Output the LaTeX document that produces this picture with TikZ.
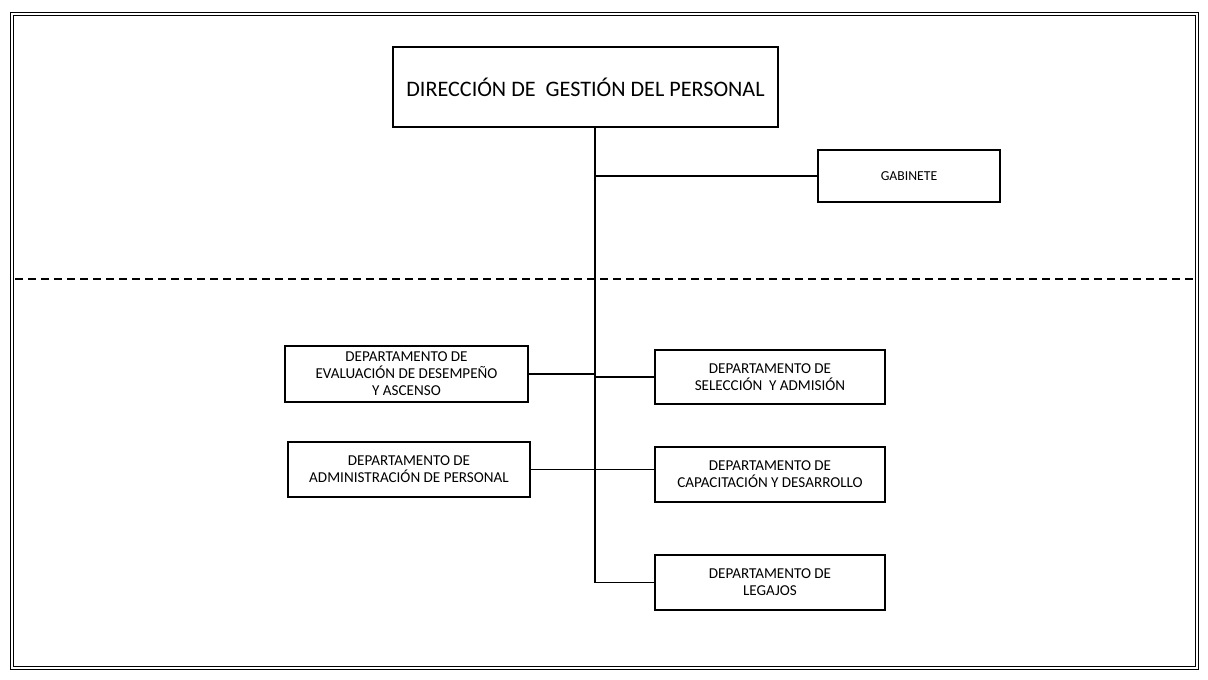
\documentclass[tikz,border=0pt]{standalone}
\usepackage{fontspec}
\setmainfont{Carlito}

\begin{document}
\begin{tikzpicture}
\tikzset{caja/.style={draw, line width=1.2pt, fill=white, align=center, inner sep=2pt, font=\fontsize{8.6}{9.6}\selectfont},
linea/.style={line width=0.9pt}}
\useasboundingbox (0,0) rectangle (24.16,-13.6);
\draw[double, double distance=1.1pt, line width=0.7pt] (0.24,-0.28) rectangle (23.94,-13.36);
\draw[line width=1.1pt, dash pattern=on 0.16cm off 0.1cm] (0.3,-5.58) -- (23.94,-5.58);
\node[caja, minimum width=7.7cm, minimum height=1.6cm, font=\fontsize{12.6}{14}\selectfont] (DIR) at (11.71,-1.74) {DIRECCIÓN DE\ \ GESTIÓN DEL PERSONAL};
\node[caja, minimum width=3.64cm, minimum height=1.04cm, font=\fontsize{7.8}{9}\selectfont] (GAB) at (18.18,-3.52) {GABINETE};
\node[caja, minimum width=4.86cm, minimum height=1.12cm] (EVA) at (8.13,-7.48) {DEPARTAMENTO DE\\EVALUACIÓN DE DESEMPEÑO\\Y ASCENSO};
\node[caja, minimum width=4.6cm, minimum height=1.08cm] (SEL) at (15.4,-7.54) {DEPARTAMENTO DE\\SELECCIÓN\ \ Y ADMISIÓN};
\node[caja, minimum width=4.84cm, minimum height=1.1cm] (ADM) at (8.18,-9.39) {DEPARTAMENTO DE\\ADMINISTRACIÓN DE PERSONAL};
\node[caja, minimum width=4.6cm, minimum height=1.1cm] (CAP) at (15.4,-9.49) {DEPARTAMENTO DE\\CAPACITACIÓN Y DESARROLLO};
\node[caja, minimum width=4.6cm, minimum height=1.1cm] (LEG) at (15.4,-11.65) {DEPARTAMENTO DE\\LEGAJOS};
\coordinate (B) at (11.9,-11.65);
\draw[linea] (DIR.south -| B) -- (B) -- (LEG.west);
\draw[linea] (GAB.west -| B) -- (GAB.west);
\draw[linea] (EVA.east) -- (EVA.east -| B);
\draw[linea] (SEL.west -| B) -- (SEL.west);
\draw[linea] (ADM.east) -- (ADM.east -| CAP.west);
\end{tikzpicture}
\end{document}
